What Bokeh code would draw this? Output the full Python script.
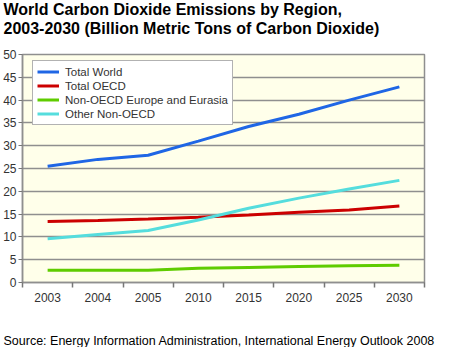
from bokeh.plotting import figure
from bokeh.models import FixedTicker, Range1d, Title
from bokeh.embed import file_html
from bokeh.resources import INLINE

years = ["2003", "2004", "2005", "2010", "2015", "2020", "2025", "2030"]
total_world = [25.5, 27.0, 27.9, 31.0, 34.2, 36.9, 40.0, 42.9]
total_oecd = [13.4, 13.6, 13.9, 14.3, 14.8, 15.4, 15.9, 16.8]
non_oecd_europe = [2.7, 2.7, 2.7, 3.1, 3.3, 3.5, 3.7, 3.8]
other_non_oecd = [9.6, 10.5, 11.4, 13.7, 16.3, 18.5, 20.5, 22.4]
y_ticks = list(range(0, 55, 5))

series = [
    ("Total World", total_world, "#1f66e5"),
    ("Total OECD", total_oecd, "#cc0000"),
    ("Non-OECD Europe and Eurasia", non_oecd_europe, "#5fcc00"),
    ("Other Non-OECD", other_non_oecd, "#55dddd"),
]

title_text = "World Carbon Dioxide Emissions by Region,\n2003-2030 (Billion Metric Tons of Carbon Dioxide)"
source_text = "Source: Energy Information Administration, International Energy Outlook 2008"

xs = [i + 0.5 for i in range(len(years))]
FONT = "Liberation Sans"

p = figure(width=446, height=347, output_backend="svg", toolbar_location=None,
           title=None,
           x_range=Range1d(0, len(years)), y_range=Range1d(0, 50),
           min_border_left=19, min_border_right=22, min_border_top=0,
           min_border_bottom=10)

# spacer between frame and title, then the title itself (farther from frame)
p.add_layout(Title(text=" ", text_font=FONT, text_font_size="1px", standoff=12), "above")
p.add_layout(Title(text=title_text, text_font=FONT, text_font_size="16px",
                   text_font_style="bold", text_color="#000000", align="left",
                   offset=-19, standoff=0, vertical_align="top",
                   text_line_height=1.15), "above")

p.background_fill_color = "#ffffea"
p.border_fill_color = "#ffffff"
p.outline_line_color = "#8f8f8f"
p.outline_line_width = 1.5

for name, vals, color in series:
    p.line(xs, vals, line_color=color, line_width=3, legend_label=name)

# x axis
p.xaxis.ticker = FixedTicker(ticks=xs, minor_ticks=list(range(0, len(years) + 1)))
p.xaxis.major_label_overrides = {x: y for x, y in zip(xs, years)}
p.xaxis.major_tick_out = 0
p.xaxis.major_tick_in = 0
p.xaxis.minor_tick_out = 5
p.xaxis.minor_tick_in = 0
p.xaxis.minor_tick_line_color = "#777777"
p.xaxis.minor_tick_line_width = 1.5
p.xaxis.major_label_standoff = 5
p.xaxis.axis_line_color = "#8f8f8f"
p.xaxis.axis_line_width = 1.5

# y axis
p.yaxis.ticker = FixedTicker(ticks=y_ticks)
p.yaxis.minor_tick_line_color = None
p.yaxis.major_tick_out = 4
p.yaxis.major_tick_in = 0
p.yaxis.major_tick_line_color = "#777777"
p.yaxis.major_label_standoff = 2
p.yaxis.axis_line_color = "#8f8f8f"
p.yaxis.axis_line_width = 1.5

for ax in (p.xaxis, p.yaxis):
    ax.major_label_text_font = FONT
    ax.major_label_text_font_size = "12px"
    ax.major_label_text_color = "#333333"

p.xgrid.grid_line_color = None
p.ygrid.ticker = FixedTicker(ticks=y_ticks)
p.ygrid.grid_line_color = "#8f8f8f"
p.ygrid.grid_line_width = 1.6

leg = p.legend[0]
leg.location = (10, 157)
leg.margin = 0
leg.padding = 4
leg.spacing = 1
leg.label_height = 13
leg.glyph_height = 13
leg.glyph_width = 22
leg.label_standoff = 6
leg.label_text_font = FONT
leg.label_text_font_size = "11.5px"
leg.label_text_color = "#333333"
leg.border_line_color = "#666666"
leg.border_line_width = 1
leg.background_fill_color = "#ffffff"
leg.background_fill_alpha = 1.0

p.add_layout(Title(text=" ", text_font=FONT, text_font_size="1px", standoff=24), "below")
p.add_layout(Title(text=source_text, text_font=FONT, text_font_size="12.5px",
                   text_font_style="normal", text_color="#000000", align="left",
                   offset=-19, standoff=0), "below")

open("out.html", "w").write(file_html(p, INLINE))
